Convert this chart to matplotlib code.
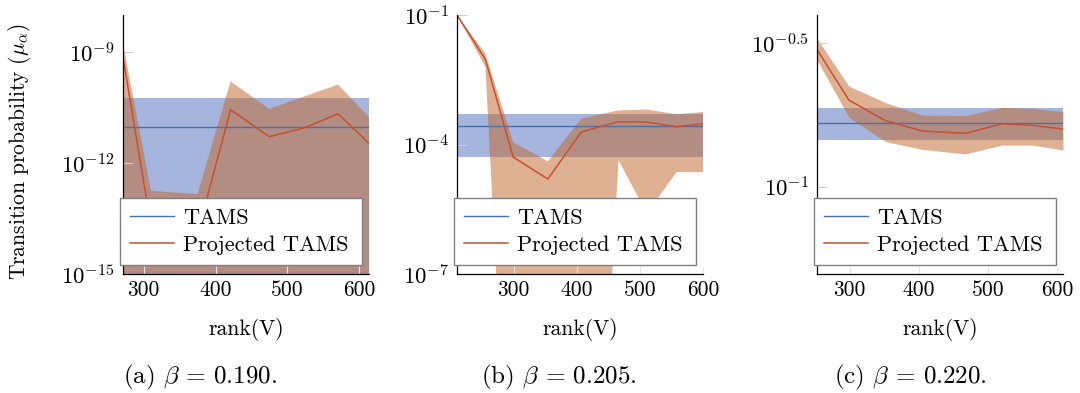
import matplotlib
matplotlib.use("Agg")
import matplotlib.pyplot as plt
import numpy as np

plt.rcParams.update({
    "font.family": ["cmr10"],
    "mathtext.fontset": "cm",
    "axes.unicode_minus": False,
    "axes.formatter.use_mathtext": True,
})

# ---- beta = 0.190 -------------------------------------------------------
rank_a = [271, 310, 375, 421, 475, 524, 571, 614]
proj_a_log = [-9.14, -13.70, -13.90, -10.56, -11.29, -11.05, -10.67, -11.47]
proj_a_hi_log = [-8.77, -12.75, -12.84, -9.79, -10.54, -10.20, -9.88, -10.76]
proj_a_lo_log = [-19.0, -20.0, -20.0, -19.0, -19.5, -19.5, -19.0, -19.5]
tams_a_log, tams_a_hi_log, tams_a_lo_log = -11.04, -10.25, -20.0

# ---- beta = 0.205 -------------------------------------------------------
rank_b = [210, 255, 299, 354, 407, 466, 511, 558, 600]
proj_b_log = [-1.00, -2.03, -4.29, -4.80, -3.71, -3.47, -3.48, -3.59, -3.52]
proj_b_hi_log = [-1.00, -1.89, -3.95, -4.39, -3.40, -3.21, -3.19, -3.30, -3.25]
proj_b_lo_log = [-1.00, -2.20, -14.5, -18.0, -20.0, -4.36, -5.60, -4.64, -4.64]
tams_b_log, tams_b_hi_log, tams_b_lo_log = -3.56, -3.30, -4.28

# ---- beta = 0.220 -------------------------------------------------------
rank_c = [253, 299, 352, 405, 467, 520, 563, 608]
proj_c_log = [-0.521, -0.698, -0.770, -0.806, -0.814, -0.781, -0.786, -0.799]
proj_c_hi_log = [-0.483, -0.649, -0.707, -0.750, -0.752, -0.723, -0.727, -0.738]
proj_c_lo_log = [-0.558, -0.758, -0.843, -0.870, -0.886, -0.855, -0.855, -0.872]
tams_c_log, tams_c_hi_log, tams_c_lo_log = -0.779, -0.727, -0.837

panels = [
    dict(rank=rank_a, proj=proj_a_log, hi=proj_a_hi_log, lo=proj_a_lo_log,
         tams=(tams_a_log, tams_a_hi_log, tams_a_lo_log),
         xlim=(271, 614), ylim=(-15, -8.0),
         yticks=[-9, -12, -15], ylabels=[r"$10^{-9}$", r"$10^{-12}$", r"$10^{-15}$"],
         caption=r"(a) $\beta$ = 0.190.", left=123, cap_x=200),
    dict(rank=rank_b, proj=proj_b_log, hi=proj_b_hi_log, lo=proj_b_lo_log,
         tams=(tams_b_log, tams_b_hi_log, tams_b_lo_log),
         xlim=(210, 600), ylim=(-7, -1),
         yticks=[-1, -4, -7], ylabels=[r"$10^{-1}$", r"$10^{-4}$", r"$10^{-7}$"],
         caption=r"(b) $\beta$ = 0.205.", left=457, cap_x=559),
    dict(rank=rank_c, proj=proj_c_log, hi=proj_c_hi_log, lo=proj_c_lo_log,
         tams=(tams_c_log, tams_c_hi_log, tams_c_lo_log),
         xlim=(253, 608), ylim=(-1.305, -0.401),
         yticks=[-0.5, -1], ylabels=[r"$10^{-0.5}$", r"$10^{-1}$"],
         caption=r"(c) $\beta$ = 0.220.", left=817, cap_x=910),
]

xticks = [300, 400, 500, 600]

W, H = 1080, 393
fig = plt.figure(figsize=(W / 100, H / 100), dpi=100)

FS = 15.5
blue_line = "#466fae"
blue_fill = "#4d6dbd"
red_line = "#c8502f"
orange_fill = "#c16529"

for p in panels:
    ax = fig.add_axes([p["left"] / W, 1 - 274 / H, 246 / W, 259 / H])
    ax.set_yscale("log")
    r = np.array(p["rank"])
    xs = [p["xlim"][0], p["xlim"][1]]
    t, thi, tlo = p["tams"]
    ax.fill_between(xs, [10 ** tlo] * 2, [10 ** thi] * 2, color=blue_fill,
                    alpha=0.5, lw=0, zorder=1)
    ax.fill_between(r, 10 ** np.array(p["lo"]), 10 ** np.array(p["hi"]),
                    color=orange_fill, alpha=0.5, lw=0, zorder=1.1)
    ax.plot(xs, [10 ** t] * 2, color=blue_line, lw=1.0, zorder=2,
            label="TAMS")
    ax.plot(r, 10 ** np.array(p["proj"]), color=red_line, lw=1.1, zorder=2.1,
            label="Projected TAMS")

    ax.set_xlim(*p["xlim"])
    ax.set_ylim(10 ** p["ylim"][0], 10 ** p["ylim"][1])
    ax.set_yticks([10 ** v for v in p["yticks"]])
    ax.set_yticklabels(p["ylabels"])
    ax.yaxis.set_minor_locator(matplotlib.ticker.NullLocator())
    ax.set_xticks(xticks)
    ax.set_xticklabels([str(v) for v in xticks])

    for s in ("top", "right"):
        ax.spines[s].set_visible(False)
    for s in ("left", "bottom"):
        ax.spines[s].set_linewidth(0.9)
        ax.spines[s].set_zorder(3)
    ax.tick_params(axis="y", direction="in", length=7, width=0.8,
                   color="#cfcfcf", labelsize=16.5, pad=6)
    ax.tick_params(axis="x", direction="in", length=6, width=0.8,
                   color="#e6e6e6", labelsize=FS, pad=5)

    ax.set_xlabel("rank(V)", fontsize=FS)
    ax.xaxis.set_label_coords(0.5, -0.215)
    ax.xaxis.label.set_verticalalignment("center")

    leg = ax.legend(loc="lower left", bbox_to_anchor=(-0.014, 0.035, 0.986, 0.3),
                    mode="expand", borderaxespad=0, fontsize=16,
                    handlelength=2.0, handletextpad=0.4, borderpad=0.45,
                    labelspacing=0.35, fancybox=False, framealpha=1,
                    edgecolor="#808080")
    leg.get_frame().set_linewidth(1.0)
    leg.set_zorder(5)

    fig.text(p["cap_x"] / W, 1 - 377 / H, p["caption"], fontsize=18,
             ha="center", va="center")

fig.text(20 / W, 1 - 152 / H, r"Transition probability ($\mu_\alpha$)",
         fontsize=FS, rotation=90, ha="center", va="center")

fig.savefig("out.png", dpi=100)
